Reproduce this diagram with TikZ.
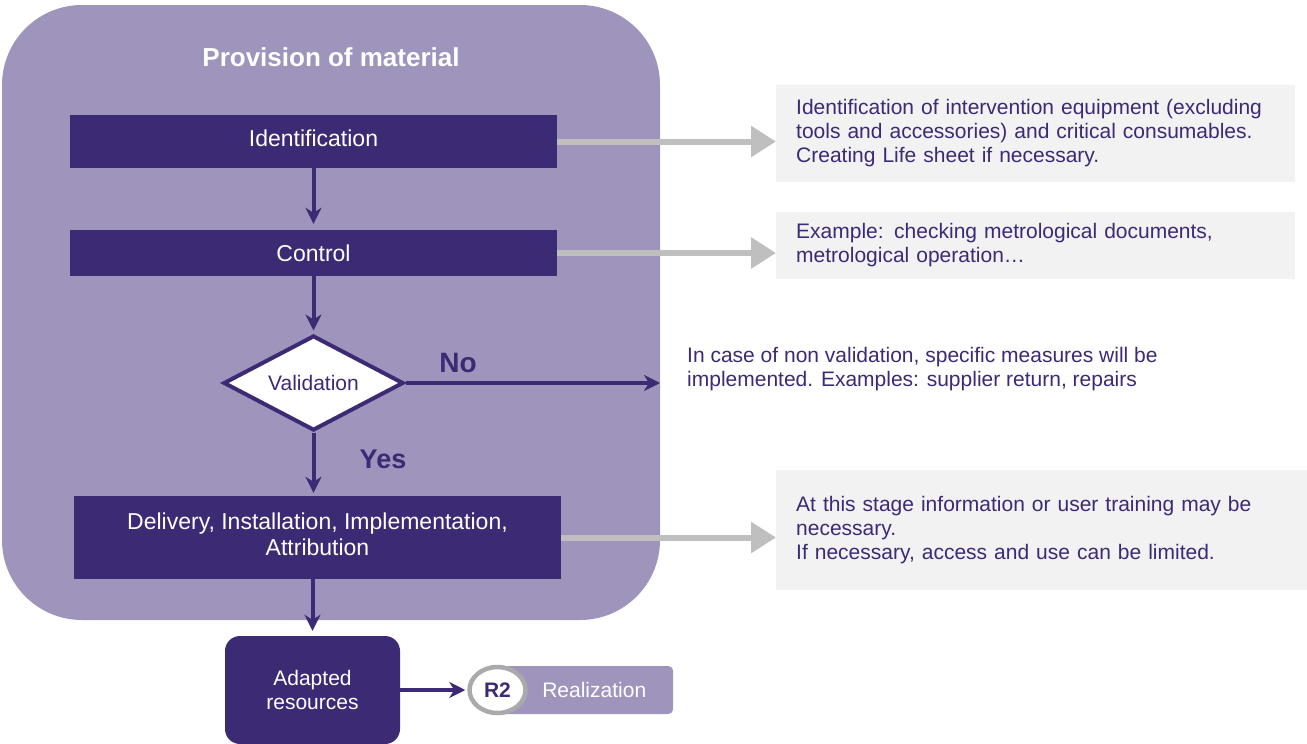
\documentclass[tikz,border=0pt]{standalone}
\usepackage{fontspec}
\setmainfont{Liberation Sans}
\usetikzlibrary{shapes.geometric,arrows.meta}
\definecolor{darkpurple}{RGB}{60,42,116}
\definecolor{lightpurple}{RGB}{159,148,188}
\definecolor{notegray}{RGB}{242,242,242}
\definecolor{arrowgray}{RGB}{191,191,191}
\definecolor{ringgray}{RGB}{170,170,170}
\begin{document}
\begin{tikzpicture}[x=1pt,y=-1pt,
    stepbox/.style={rectangle,fill=darkpurple,text=white,minimum width=487pt,inner sep=0pt,align=center,font=\fontsize{23}{26}\selectfont},
    notebox/.style={rectangle,fill=notegray,text=darkpurple,anchor=west,align=left,inner xsep=20pt,inner ysep=0pt,font=\fontsize{21}{24}\selectfont},
    flow/.style={draw=darkpurple,line width=4pt,-{Stealth[length=16pt,width=16pt,inset=5pt]}},
    hint/.style={draw=arrowgray,line width=6pt,-{Triangle[length=25pt,width=30pt]}}]
    \useasboundingbox (0,0) rectangle (1307,744);

    % Place the background panel
    \fill[lightpurple,rounded corners=80pt] (2,5) rectangle (660,620);
    \node[text=white,font=\bfseries\fontsize{26}{30}\selectfont] (title) at (331,57) {Provision of material};

    % Place the steps
    \node[stepbox,minimum height=53pt] (ident) at (313.5,141.5) {Identification\\[-20pt]};
    \node[stepbox,minimum height=46pt] (ctrl) at (313.5,253) {Control};
    \node[diamond,draw=darkpurple,fill=white,line width=4pt,aspect=1.9,inner sep=0pt,
          minimum width=180pt,minimum height=95pt,text=darkpurple,font=\fontsize{21}{24}\selectfont] (valid) at (313.5,383) {Validation};
    \node[stepbox,minimum height=83pt] (deliv) at (317.5,537.5) {Delivery, Installation, Implementation,\\Attribution\\[-20pt]};
    \node[rectangle,fill=darkpurple,text=white,rounded corners=15pt,minimum width=175pt,minimum height=108pt,
          align=center,font=\fontsize{21}{24}\selectfont] (adapt) at (312.5,690) {Adapted\\resources};

    % Place the result badge
    \node[rectangle,fill=lightpurple,rounded corners=5pt,minimum width=183pt,minimum height=48pt,anchor=west,
          text=white,font=\fontsize{21}{24}\selectfont,inner xsep=0pt,text width=183pt,align=right] (real) at (490,690) {Realization\hspace*{27pt}};
    \node[ellipse,draw=ringgray,fill=white,line width=4.5pt,minimum width=56pt,minimum height=46pt,inner sep=0pt,
          text=darkpurple,font=\bfseries\fontsize{21}{24}\selectfont] (rtwo) at (497.5,690) {R2};

    % Place the notes
    \node[notebox,minimum height=97pt,text width=479pt] (note1) at (776,133.5)
        {Identification of intervention equipment (excluding\\tools and accessories) and critical consumables.\\Creating Life sheet if necessary.};
    \node[notebox,minimum height=67pt,text width=479pt] (note2) at (776,245.5)
        {Example: checking metrological documents,\\metrological operation\dots};
    \node[text=darkpurple,anchor=west,align=left,inner sep=0pt,font=\fontsize{21}{24}\selectfont] (note3) at (687,369)
        {In case of non validation, specific measures will be\\implemented. Examples: supplier return, repairs};
    \node[notebox,minimum height=120pt,text width=491pt] (note4) at (776,530)
        {At this stage information or user training may be\\necessary.\\If necessary, access and use can be limited.};

    % The labels of the branches
    \node[text=darkpurple,font=\bfseries\fontsize{28}{30}\selectfont] (no) at (458,363) {No};
    \node[text=darkpurple,font=\bfseries\fontsize{27}{30}\selectfont] (yes) at (383,459) {Yes};

    % The arrows!
    \draw[flow,shorten >=6pt] (ident) -- (ctrl);
    \draw[flow,shorten >=3pt] (ctrl) -- (valid);
    \draw[flow,shorten >=3pt] (valid.south) -- (valid.south |- deliv.north);
    \draw[flow,shorten >=5pt] (deliv.south -| adapt.north) -- (adapt);
    \draw[flow,shorten >=2pt] (adapt) -- (rtwo);
    \draw[flow,shorten >=27pt] (valid.east) -- (valid.east -| note3.west);
    \draw[hint] (ident.east) -- (ident.east -| note1.west);
    \draw[hint] (ctrl.east) -- (ctrl.east -| note2.west);
    \draw[hint] (deliv.east) -- (deliv.east -| note4.west);
\end{tikzpicture}
\end{document}
